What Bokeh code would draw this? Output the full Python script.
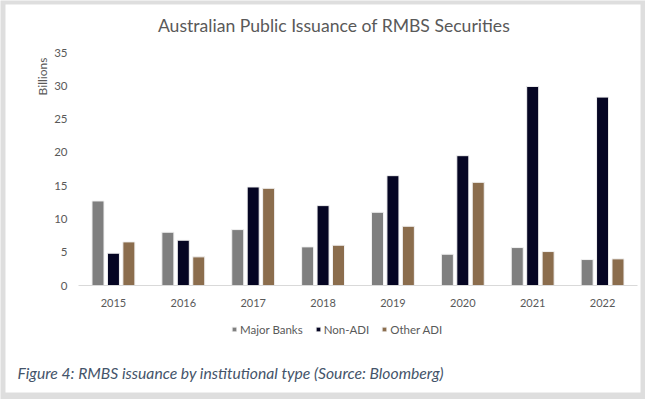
import math
from bokeh.plotting import figure
from bokeh.models import Range1d, Legend, LegendItem, ColumnDataSource, Label, BoxAnnotation
from bokeh.transform import dodge
from bokeh.core.properties import value
from bokeh.embed import file_html
from bokeh.resources import INLINE

years = ["2015", "2016", "2017", "2018", "2019", "2020", "2021", "2022"]
major_banks = [12.7, 8.0, 8.4, 5.8, 11.0, 4.7, 5.7, 3.9]
non_adi = [4.85, 6.8, 14.8, 12.0, 16.5, 19.5, 29.9, 28.3]
other_adi = [6.55, 4.3, 14.6, 6.05, 8.9, 15.5, 5.1, 4.0]
series_names = ["Major Banks", "Non-ADI", "Other ADI"]
series_colors = ["#7f7f7f", "#050523", "#8b6d4d"]
y_ticks = [0, 5, 10, 15, 20, 25, 30, 35]
y_max = 35

TXT = "#595959"
FONT = "Lato"

# pixel layout (canvas = whole 645x399 window)
W, H = 645, 399
X0, X1 = 78.0, 637.0      # plot area left/right
Y0, YT = 285.0, 52.0      # pixel of 0 and of y_max
PXX = (X1 - X0) / len(years)
PXY = (Y0 - YT) / y_max


def wx(px):
    return (px - X0) / PXX


def wy(py):
    return (Y0 - py) / PXY


centers = [i + 0.5 for i in range(len(years))]
source = ColumnDataSource(dict(x=centers, years=years, major=major_banks, non=non_adi, other=other_adi))

p = figure(
    x_range=Range1d(wx(0), wx(W)), y_range=Range1d(wy(H), wy(0)),
    width=W, height=H, min_border=0,
    x_axis_location=None, y_axis_location=None,
    output_backend="svg", toolbar_location=None, title=None, tools="",
)
p.styles = {"position": "absolute", "left": "0px", "top": "0px"}
p.background_fill_color = "#dedede"
p.border_fill_color = "#dedede"
p.outline_line_color = None
p.grid.visible = False

# white card with gray frame around it
p.add_layout(BoxAnnotation(left=wx(5), right=wx(640), top=wy(4), bottom=wy(392),
                           fill_color="white", fill_alpha=1.0, line_color=None, level="underlay"))

renderers = []
for key, off, col in zip(["major", "non", "other"], [-0.221, 0.0, 0.221], series_colors):
    r = p.vbar(x=dodge("x", off), top=key, width=0.172, source=source,
               fill_color=col, line_color="#f2f2f2", line_width=1)
    renderers.append(r)

# x axis line
p.line(x=[0, len(years)], y=[0, 0], line_color="#d9d9d9", line_width=1)

# y tick labels
p.text(x=[wx(67)] * len(y_ticks), y=y_ticks, text=[str(t) for t in y_ticks],
       text_align="right", text_baseline="middle", text_font=value(FONT),
       text_font_size="11.5px", text_color=TXT)

# category labels
p.text(x=centers, y=[wy(302)] * len(years), text=years,
       text_align="center", text_baseline="middle", text_font=value(FONT),
       text_font_size="11px", text_color=TXT)

p.add_layout(Label(x=wx(333.5), y=wy(25), text="Australian Public Issuance of RMBS Securities",
                   text_align="center", text_baseline="middle", text_font=FONT,
                   text_font_size="17.6px", text_color=TXT))
p.add_layout(Label(x=wx(42), y=wy(76), text="Billions", angle=math.pi / 2,
                   text_align="center", text_baseline="middle", text_font=FONT,
                   text_font_size="12px", text_color=TXT))
p.add_layout(Label(x=wx(17), y=wy(372),
                   text="Figure 4: RMBS issuance by institutional type (Source: Bloomberg)",
                   text_align="left", text_baseline="middle", text_font=FONT,
                   text_font_style="italic", text_font_size="15.7px", text_color="#44546a"))

legend = Legend(items=[LegendItem(label=n, renderers=[r]) for n, r in zip(series_names, renderers)],
                orientation="horizontal", location=(231, H - 336), padding=0, margin=0,
                glyph_width=6, glyph_height=6, label_standoff=3, spacing=12, label_height=14,
                label_text_font=FONT, label_text_font_size="11.5px", label_text_color=TXT,
                background_fill_alpha=0, border_line_color=None)
p.add_layout(legend)

open("out.html", "w").write(file_html(p, INLINE))
